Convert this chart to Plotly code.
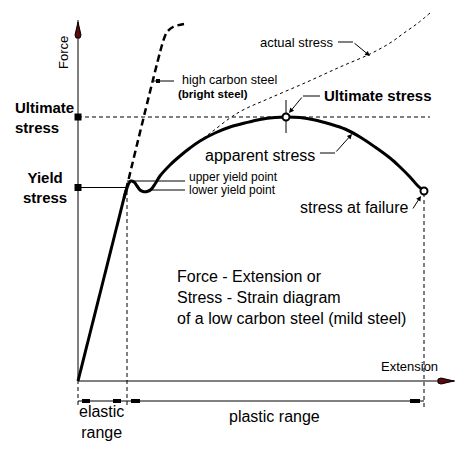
import plotly.graph_objects as go

# ---- data (extension / force units, origin at axis origin) ----
elastic_ext = [0, 48]
elastic_force = [0, 191]

mild_ext = [46, 49, 51, 53, 56, 59, 62, 65, 69, 73, 77, 82, 92, 102, 112, 122, 137, 152,
            167, 182, 197, 208, 222, 237, 252, 267, 282, 297, 312, 322, 332, 340, 346]
mild_force = [183, 193, 198, 200, 199, 195, 191, 189.5, 189.5, 191.5, 197, 205, 216, 225, 233,
              240, 248, 254, 258, 261.5, 263.5, 264, 263.5, 261, 257, 252, 244, 234, 223, 214,
              204, 195, 190]

hc_ext = [48, 84, 87, 89, 95, 106]
hc_force = [191, 336, 345, 349, 354, 357]

actual_ext = [120, 135, 152, 165, 192, 229, 262, 292, 312, 326, 340, 352]
actual_force = [239, 250, 263, 271, 283, 299, 314, 327, 338, 348, 358, 368]

ultimate_stress = 264
yield_stress = 193.5
ultimate_ext = 208
failure_ext, failure_force = 346, 190
elastic_limit_ext = 49
upper_yield, lower_yield = 200, 191

BLACK = "black"
FONT = "Liberation Sans, Arial, sans-serif"
RED = "#5a0a0a"

fig = go.Figure()

def line(x, y, width=1, dash=None, shape="linear", color=BLACK):
    fig.add_trace(go.Scatter(x=x, y=y, mode="lines",
                             line=dict(color=color, width=width, dash=dash, shape=shape),
                             hoverinfo="skip", showlegend=False))

# axes
line([0, 0], [0, 361], 1)
line([0, 377], [0, 0], 1)
# axis arrowheads
fig.add_trace(go.Scatter(x=[0, -3, -2, 2, 3, 0], y=[359, 346, 343, 343, 346, 359], mode="lines",
                         fill="toself", fillcolor=RED, line=dict(color=BLACK, width=1),
                         hoverinfo="skip", showlegend=False))
fig.add_trace(go.Scatter(x=[376, 363, 360, 360, 363, 376], y=[0, -3, -2, 2, 3, 0], mode="lines",
                         fill="toself", fillcolor=RED, line=dict(color=BLACK, width=1),
                         hoverinfo="skip", showlegend=False))

# reference lines
line([0, 352], [ultimate_stress, ultimate_stress], 1, dash="4px,3px")
line([0, 48], [yield_stress, yield_stress], 1)
line([0, 0], [-24, 0], 1, dash="4px,3px")
line([elastic_limit_ext, elastic_limit_ext], [-24, 200], 1, dash="4px,3px")
line([failure_ext, failure_ext], [-26, 186], 1, dash="4px,3px")
line([ultimate_ext, ultimate_ext], [248, 281], 1)

# yield leaders
line([49, 107], [upper_yield, upper_yield], 1)
line([74, 107], [lower_yield, lower_yield], 1)

# curves
line(hc_ext, hc_force, 2.5, dash="7px,4px", shape="spline")
line(actual_ext, actual_force, 1, dash="3px,3px", shape="spline")
line(elastic_ext, elastic_force, 3)
line(mild_ext, mild_force, 3, shape="spline")

# dimension line
line([0, failure_ext], [-20, -20], 1)
for a, b in [(4, 12), (35, 43), (53, 62), (332, 342)]:
    line([a, b], [-20, -20], 4)

# leaders
line([225, 242], [285, 285], 1)
line([242, 257], [228, 228], 1)
line([260, 275], [339, 339], 1)
line([76, 96], [300, 300], 1)
fig.add_trace(go.Scatter(x=[80], y=[300], mode="markers",
                         marker=dict(symbol="square", size=4, color=BLACK),
                         hoverinfo="skip", showlegend=False))

# markers
fig.add_trace(go.Scatter(x=[0, 0], y=[ultimate_stress, yield_stress], mode="markers",
                         marker=dict(symbol="square", size=7, color=BLACK),
                         hoverinfo="skip", showlegend=False))
fig.add_trace(go.Scatter(x=[ultimate_ext, failure_ext], y=[ultimate_stress, failure_force],
                         mode="markers",
                         marker=dict(symbol="circle", size=7, color="white",
                                     line=dict(color=BLACK, width=2)),
                         hoverinfo="skip", showlegend=False))

def arrow(x, y, ax, ay):
    fig.add_annotation(x=x, y=y, ax=ax, ay=ay, xref="x", yref="y", axref="x", ayref="y",
                       text="", showarrow=True, arrowhead=2, arrowsize=1, arrowwidth=1,
                       arrowcolor=BLACK, standoff=0, startstandoff=0)

arrow(211, 268, 225, 285)
arrow(274, 247, 257, 228)
arrow(292, 325, 275, 339)
arrow(343, 185, 334, 171)

def text(x, y, s, size=13, xanchor="left", angle=0, bold=False, align="left"):
    if bold:
        s = "<b>" + s.replace("<br>", "</b><br><b>") + "</b>"
    fig.add_annotation(x=x, y=y, xref="x", yref="y", text=s, showarrow=False,
                       xanchor=xanchor, yanchor="middle", textangle=angle, align=align,
                       font=dict(family=FONT, size=size, color=BLACK))

text(-15, 328, "Force", 13, xanchor="center", angle=-90)
text(331, 15, "Extension", 13, xanchor="center")
text(-65, ultimate_stress, "Ultimate<br>stress", 15, bold=True)
text(-33, yield_stress, "Yield<br>stress", 15, xanchor="center", bold=True, align="center")
text(102, 301, "high carbon steel", 12.5)
text(98, 287, "(bright steel)", 11.5, bold=True)
text(244, 286, "Ultimate stress", 15, bold=True)
text(239, 226, "apparent stress", 16, xanchor="right")
text(180, 339, "actual stress", 13)
text(109, 204, "upper yield point", 12)
text(109, 191, "lower yield point", 12)
text(333, 174, "stress at failure", 16, xanchor="right")
text(97, 84, "Force - Extension or<br>Stress - Strain diagram<br>of a low carbon steel (mild steel)", 16)
text(23, -41, "elastic<br>range", 16, xanchor="center", align="center")
text(196, -35, "plastic range", 16, xanchor="center")

fig.update_layout(
    width=468, height=449, margin=dict(l=0, r=0, t=0, b=0),
    paper_bgcolor="white", plot_bgcolor="white", showlegend=False, hovermode=False,
    xaxis=dict(range=[-78, 390], visible=False, fixedrange=True),
    yaxis=dict(range=[-68, 381], visible=False, fixedrange=True),
)

fig.write_html("out.html")
